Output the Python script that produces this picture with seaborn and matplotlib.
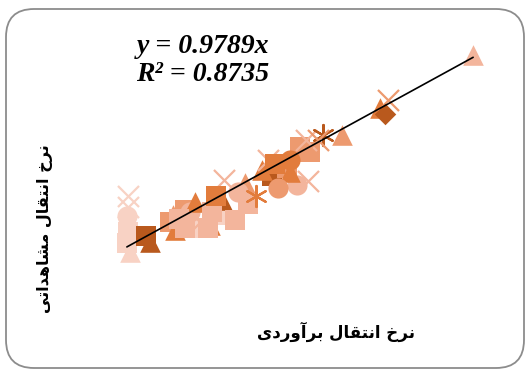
import numpy as np
import pandas as pd
import seaborn as sns
import matplotlib
matplotlib.use("Agg")
import matplotlib.pyplot as plt
from matplotlib.patches import FancyBboxPatch

x_est = [0.108, 0.108, 0.105, 0.108, 0.113, 0.105, 0.155, 0.165, 0.225, 0.217,
         0.256, 0.269, 0.282, 0.295, 0.256, 0.326, 0.352, 0.336, 0.346, 0.385,
         0.393, 0.357, 0.440, 0.411, 0.497, 0.546, 0.574, 0.456, 0.481, 0.489,
         0.528, 0.471, 0.554, 0.570, 0.580, 0.614, 0.601, 0.663, 0.528, 0.774,
         0.761, 0.782, 1.003, 0.316, 0.229, 0.321, 0.240, 0.300, 0.420, 0.520]
y_obs = [0.339, 0.288, 0.246, 0.172, 0.079, 0.121, 0.153, 0.126, 0.251, 0.218,
         0.274, 0.265, 0.311, 0.218, 0.191, 0.265, 0.320, 0.339, 0.251, 0.228,
         0.357, 0.413, 0.339, 0.399, 0.376, 0.390, 0.408, 0.459, 0.432, 0.487,
         0.505, 0.505, 0.566, 0.598, 0.542, 0.622, 0.598, 0.622, 0.450, 0.719,
         0.746, 0.783, 0.993, 0.191, 0.181, 0.205, 0.230, 0.190, 0.300, 0.470]
shape = ['x', 'x', 'o', 's', '^', 's', 's', '^', '^', 's',
         's', 'o', '^', 'x', 's', 's', '^', 's', 's', 's',
         'o', 'x', '*', '^', 'o', 'o', 'x', '^', 's', 's',
         'o', 'x', 's', 'x', 's', '*', 'x', '^', '^', 'D',
         '^', 'x', '^', 's', '^', '^', 's', 's', 's', 's']
tone = ['pale', 'pale', 'pale', 'pale', 'pale', 'pale', 'dark', 'dark', 'mid', 'mid',
        'mid', 'light', 'orange', 'light', 'light', 'light', 'dark', 'orange', 'pale', 'light',
        'light', 'light', 'orange', 'mid', 'mid', 'light', 'light', 'orange', 'dark', 'orange',
        'orange', 'light', 'mid', 'light', 'mid', 'dark', 'mid', 'mid', 'orange', 'dark',
        'orange', 'mid', 'light', 'light', 'orange', 'orange', 'light', 'pale', 'light', 'mid']

slope = 0.9789
r2 = 0.8735

colors = {'dark': '#b9591d', 'orange': '#e27c3c', 'mid': '#ed9a6f',
          'light': '#f3b59c', 'pale': '#f8d2c4'}
mk = {'x': 'x', 'o': 'o', 's': 's', '^': '^', 'D': 'D', '*': (6, 2, 0)}
size = {'x': 230, '*': 230, 'o': 210, 's': 200, '^': 220, 'D': 120}

df = pd.DataFrame({'x': x_est, 'y': y_obs, 'shape': shape, 'tone': tone})

sns.set_style("white")
plt.rcParams['font.family'] = ['DejaVu Sans', 'Noto Sans']

fig = plt.figure(figsize=(5.29, 3.74), dpi=100)
ax = fig.add_axes([0.1633, 0.2805, 0.8018, 0.6344])

for (s, t), g in df.groupby(['shape', 'tone'], sort=False):
    line_art = s in ('x', '*')
    sns.scatterplot(data=g, x='x', y='y', ax=ax, marker=mk[s],
                    color=colors[t], s=size[s],
                    linewidth=1.6 if line_art else 0, alpha=1, legend=False)

xs = np.array([min(x_est), max(x_est)])
ax.plot(xs, slope * xs, color='black', lw=1.2)

ax.set_xlim(0, 1.1)
ax.set_ylim(0, 1.1)
ax.axis('off')

# trendline equation, Times-like bold italic
eq = dict(fontfamily='Liberation Serif', fontsize=20, fontweight='bold',
          fontstyle='italic', va='center', color='black')
fig.text(0.258, 0.877, f"y = {slope}x", **eq)
fig.text(0.258, 0.802, f"R\u00b2 = {r2}", **eq)

# Persian labels in presentation forms, visual order
xlab = ("\uFBFC\uFEA9\uFEAD\uFEED\uFE81\uFEAE\uFE91 "
        "\uFEDD\uFE8E\uFED8\uFE98\uFEE7\uFE8D \uFEA5\uFEAE\uFEE7")
ylab = ("\uFBFD\uFE97\uFE8D\uFEAA\uFEEB\uFE8E\uFEB8\uFEE3 "
        "\uFEDD\uFE8E\uFED8\uFE98\uFEE7\uFE8D \uFEA5\uFEAE\uFEE7")
fig.text(0.635, 0.112, xlab, fontsize=12, fontweight='bold',
         ha='center', va='center', color='black')
fig.text(0.085, 0.39, ylab, fontsize=11.5, fontweight='bold',
         ha='center', va='center', rotation=90, color='black')

box = FancyBboxPatch((6, 6), 518, 359, boxstyle="round,pad=0,rounding_size=28",
                     transform=None, fill=False, edgecolor='#8c8c8c', lw=1.3)
fig.patches.append(box)

fig.savefig('out.png', dpi=100)
